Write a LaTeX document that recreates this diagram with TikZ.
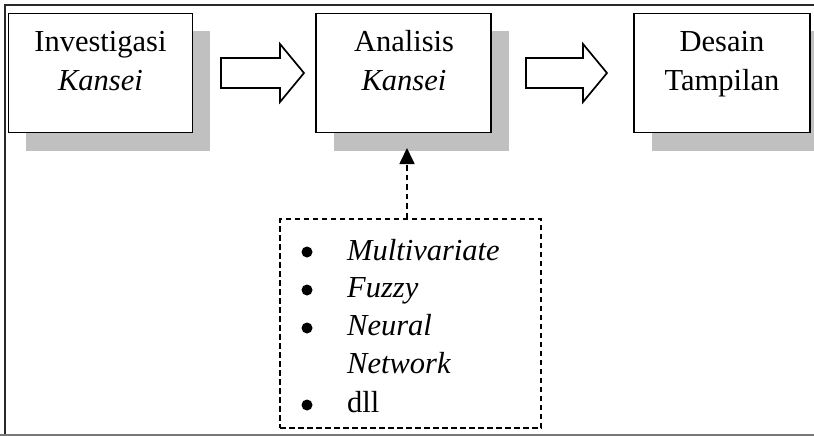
\documentclass[tikz,border=0pt]{standalone}
\usepackage{fontspec}
\setmainfont{Liberation Serif}
\usetikzlibrary{arrows.meta,calc,shadows}
\definecolor{shadowgray}{RGB}{192,192,192}
\definecolor{framedark}{RGB}{40,40,40}
\definecolor{framegray}{RGB}{120,120,120}
\begin{document}
\begin{tikzpicture}[x=1pt,y=-1pt,
  stagebox/.style={draw=black, line width=1.7pt, fill=white, inner sep=0pt,
    drop shadow={shadow xshift=17.5pt, shadow yshift=-18pt, opacity=1, fill=shadowgray}},
  lbl/.style={anchor=base, inner sep=0pt, font=\fontsize{30.5}{39}\selectfont},
  itemtext/.style={anchor=base west, inner sep=0pt, font=\fontsize{30.5}{39}\selectfont},
  bulletmark/.style={circle, fill=black, inner sep=0pt, minimum size=11pt},
  blockarrow/.style={draw=black, line width=1.7pt, fill=white, line join=miter},
  listbox/.style={draw=black, line width=1.4pt, dash pattern=on 5.5pt off 3.5pt, inner sep=0pt},
  link/.style={draw=black, line width=1.7pt, dash pattern=on 5.5pt off 4pt,
    -{Triangle[width=15pt,length=16pt]}}
]
\useasboundingbox (0,0) rectangle (814,436);
\clip (0,0) rectangle (814,436);

% outer frame
\draw[framedark, line width=2pt] (5,436) -- (5,5) -- (814,5);
\draw[framegray, line width=1.5pt] (0,435.2) -- (814,435.2);

% process stages
\node[stagebox, minimum width=184pt, minimum height=119pt] (investigasi) at (100.5,73) {};
\node[stagebox, minimum width=175pt, minimum height=119pt] (analisis) at (403.5,73) {};
\node[stagebox, minimum width=176pt, minimum height=119pt] (desain) at (722,73) {};

\node[lbl] (investigasi1) at (100.5,52) {Investigasi};
\node[lbl] (investigasi2) at (100.5,91) {\itshape Kansei};
\node[lbl] (analisis1) at (404,52) {Analisis};
\node[lbl] (analisis2) at (404,91) {\itshape Kansei};
\node[lbl] (desain1) at (722,52) {Desain};
\node[lbl] (desain2) at (722,91) {Tampilan};

% block arrows between stages
\draw[blockarrow] (221,58) -- (280,58) -- (280,44) -- (304,73) -- (280,102)
  -- (280,88) -- (221,88) -- cycle;
\draw[blockarrow] (526,58) -- (583,58) -- (583,44) -- (607,73) -- (583,102)
  -- (583,88) -- (526,88) -- cycle;

% analysis methods
\node[listbox, minimum width=261pt, minimum height=209pt] (methods) at (410.5,323.5) {};
\node[bulletmark] (b1) at (307,252) {};
\node[bulletmark] (b2) at (307,290) {};
\node[bulletmark] (b3) at (307,328) {};
\node[bulletmark] (b4) at (307,405) {};
\node[itemtext] (m1) at (347,260) {\itshape Multivariate};
\node[itemtext] (m2) at (347,297) {\itshape Fuzzy};
\node[itemtext] (m3) at (347,335) {\itshape Neural};
\node[itemtext] (m3b) at (347,373) {\itshape Network};
\node[itemtext] (m4) at (347,412) {dll};

% link from methods to analysis stage
\coordinate (tip) at (407,148);
\draw[link] (tip |- methods.north) -- (tip);
\end{tikzpicture}
\end{document}
